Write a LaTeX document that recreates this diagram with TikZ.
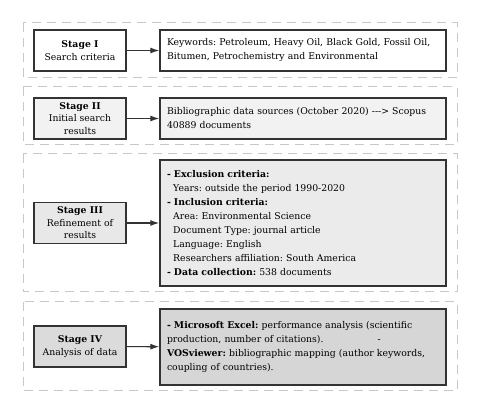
\documentclass[tikz,border=0pt]{standalone}
\usepackage{fontspec}
\setmainfont{DejaVu Serif}
\usetikzlibrary{arrows.meta}

\definecolor{edgegray}{HTML}{333333}
\definecolor{framegray}{HTML}{C8C8C8}

\tikzset{
  stagebox/.style={draw=edgegray, line width=1.2pt, minimum width=92pt, minimum height=41pt,
    align=center, inner sep=2pt, font=\fontsize{9.3}{12.5}\selectfont},
  infobox/.style={draw=edgegray, line width=1.4pt, minimum width=286pt, align=left,
    text width=272pt, inner sep=7pt, font=\fontsize{9.3}{14}\selectfont},
  frame/.style={draw=framegray, line width=1pt, dash pattern=on 9pt off 6pt},
  link/.style={edgegray, line width=1.2pt, -{Latex[length=9pt,width=6pt]}}
}

\begin{document}
\frenchspacing
\begin{tikzpicture}[x=1pt, y=-1pt]
  \useasboundingbox (0,0) rectangle (480,414);
  % dashed stage frames
  \draw[frame] (23,23) rectangle (457,78);
  \draw[frame] (23,87) rectangle (457,145);
  \draw[frame] (23,154) rectangle (457,292);
  \draw[frame] (23,302) rectangle (457,391);

  % stage I
  \node[stagebox, fill=white] (stageI) at (80,50.5) {\textbf{Stage I}\\Search criteria};
  \node[infobox, fill=white, minimum height=41pt] (boxI) at (303,50.5)
    {Keywords: Petroleum, Heavy Oil, Black Gold, Fossil Oil,\\Bitumen, Petrochemistry and Environmental};
  \draw[link] (stageI) -- (boxI);

  % stage II
  \node[stagebox, fill=black!5] (stageII) at (80,118.5) {\textbf{Stage II}\\Initial search\\results};
  \node[infobox, fill=black!5, minimum height=41pt] (boxII) at (303,118.5)
    {Bibliographic data sources (October 2020) -{}-{}-{}> Scopus\\40889 documents};
  \draw[link] (stageII) -- (boxII);

  % stage III
  \node[stagebox, fill=black!9] (stageIII) at (80,223) {\textbf{Stage III}\\Refinement of\\results};
  \node[infobox, fill=black!8, minimum height=126pt] (boxIII) at (303,223)
    {\textbf{- Exclusion criteria:}\\
     \phantom{- }Years: outside the period 1990-2020\\
     \textbf{- Inclusion criteria:}\\
     \phantom{- }Area: Environmental Science\\
     \phantom{- }Document Type: journal article\\
     \phantom{- }Language: English\\
     \phantom{- }Researchers affiliation: South America\\
     \textbf{- Data collection:} 538 documents};
  \draw[link] (stageIII) -- (boxIII);

  % stage IV
  \node[stagebox, fill=black!14] (stageIV) at (80,346.5) {\textbf{Stage IV}\\Analysis of data};
  \node[infobox, fill=black!16, minimum height=76pt] (boxIV) at (303,347)
    {\textbf{- Microsoft Excel:} performance analysis (scientific\\
     production, number of citations).\hspace*{5.8em}-\\
     \textbf{VOSviewer:} bibliographic mapping (author keywords,\\
     coupling of countries).};
  \draw[link] (stageIV) -- (boxIV);
\end{tikzpicture}
\end{document}
